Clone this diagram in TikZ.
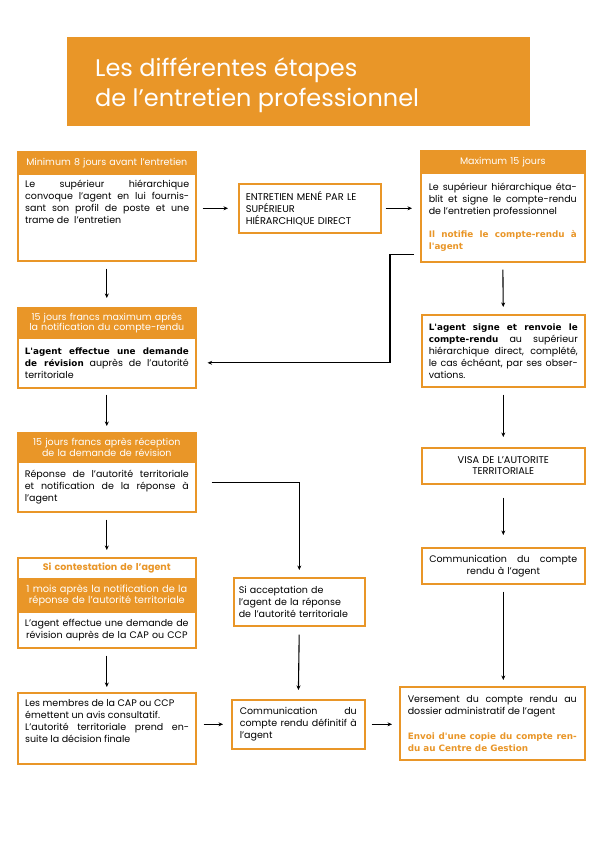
\documentclass[tikz,border=0pt]{standalone}
\usepackage{fontspec}
\setmainfont{Poppins}
\newfontfamily\vbfont{DejaVu Sans}
\usetikzlibrary{arrows.meta}
\definecolor{org}{RGB}{233,150,40}
\newcommand\myBody{\fontsize{9.5}{12}\selectfont}
\newcommand\myHead{\fontsize{9.5}{10.5}\selectfont}
\newcommand\myBold[1]{{\vbfont\bfseries\fontsize{8.8}{12}\selectfont #1}}
\newcommand\myOBold[1]{{\color{org}\vbfont\bfseries\fontsize{8.8}{12}\selectfont #1}}
\begin{document}
\begin{tikzpicture}[x=1pt,y=-1pt,
  box/.style={draw=org, line width=1.6pt, fill=white, anchor=north west, inner ysep=0pt, font=\myBody, text=black},
  hbox/.style={draw=org, line width=1.6pt, fill=org, anchor=north west, inner ysep=0pt, inner xsep=2pt, font=\myHead, text=white, align=center, minimum width=178pt, text width=174pt},
  txt/.style={anchor=north west, inner sep=0pt, font=\myBody, align=justify},
  arr/.style={line width=1.1pt, -{Stealth[length=4.5pt,width=4pt]}}]
\useasboundingbox (0,0) rectangle (595,842);
\fill[white] (0,0) rectangle (595,842);
% title
\node[fill=org, anchor=north west, minimum width=463pt, minimum height=89pt, inner sep=0pt] (title) at (67,37) {};
\node[anchor=base west, inner sep=0pt, text=white, font=\fontsize{24}{30}\selectfont] (title1) at (95,77) {Les différentes étapes};
\node[anchor=base west, inner sep=0pt, text=white, font=\fontsize{24}{30}\selectfont] (title2) at (95,107) {de l’entretien professionnel};
% left column
\node[hbox, minimum height=22pt] (b1h) at (17,151) {Minimum 8 jours avant l'entretien};
\node[box, minimum width=178pt, minimum height=87pt] (b1) at (17,173) {};
\node[txt, text width=164pt] (t1) at (25,180) {Le supérieur hiérarchique\linebreak convoque l'agent en lui fournis-\linebreak sant son profil de poste et une\linebreak trame de\ \ l'entretien};
\node[hbox, minimum height=30pt] (b2h) at (17,307) {15 jours francs maximum après\\la notification du compte-rendu};
\node[box, minimum width=178pt, minimum height=50pt, text width=164pt, inner xsep=7pt, align=justify] (b2) at (17,337) {\myBold{L'agent effectue une demande}\linebreak \myBold{de révision} auprès de l'autorité\linebreak territoriale};
\node[hbox, minimum height=29pt] (b3h) at (17,432) {15 jours francs après réception\\de la demande de révision};
\node[box, minimum width=178pt, minimum height=50pt, text width=164pt, inner xsep=7pt, align=justify] (b3) at (17,461) {Réponse de l'autorité territoriale\linebreak et notification de la réponse à\linebreak l'agent};
\node[box, minimum width=178pt, minimum height=21pt, text width=164pt, inner xsep=7pt, align=center, font=\myBody\bfseries, text=org] (b4a) at (17,557) {Si contestation de l'agent};
\node[hbox, minimum height=33pt, font=\fontsize{9.8}{11.5}\selectfont] (b4h) at (17,578) {1 mois après la notification de la\\réponse de l'autorité territoriale};
\node[box, minimum width=178pt, minimum height=36pt, text width=164pt, inner xsep=7pt, align=center] (b4b) at (17,611) {L'agent effectue une demande de\\révision auprès de la CAP ou CCP};
\node[box, minimum width=178pt, minimum height=71pt] (b5) at (17,692) {};
\node[txt, text width=164pt] (t5) at (25,699) {Les membres de la CAP ou CCP\newline émettent un avis consultatif.\newline L'autorité territoriale prend en-\linebreak suite la décision finale};
% middle column
\node[box, minimum width=142pt, minimum height=49pt, text width=128pt, inner xsep=7pt, align=left, font=\fontsize{9.8}{12}\selectfont] (m1) at (238,183) {ENTRETIEN MENÉ PAR LE\\SUPÉRIEUR\\HIÉRARCHIQUE DIRECT};
\node[box, minimum width=131pt, minimum height=48pt, text width=121pt, inner xsep=5pt, align=left] (acc) at (233,577) {Si acceptation de\\l'agent de la réponse\\de l'autorité territoriale};
\node[box, minimum width=133pt, minimum height=49pt, text width=117pt, inner xsep=8pt, align=justify] (commdef) at (231,699) {Communication du\linebreak compte rendu définitif à\linebreak l'agent};
% right column
\node[hbox, minimum width=164pt, text width=160pt, minimum height=22pt] (r1h) at (420,150) {Maximum 15 jours};
\node[box, minimum width=164pt, minimum height=89pt, text width=148pt, inner xsep=8pt, align=justify] (r1) at (420,172) {Le supérieur hiérarchique éta-\linebreak blit et signe le compte-rendu\linebreak de l'entretien professionnel\par\vspace{11pt}\myOBold{Il notifie le compte-rendu à\linebreak l'agent}};
\node[box, minimum width=163pt, minimum height=72pt, text width=149pt, inner xsep=7pt, align=justify] (r2) at (421,314) {\myBold{L'agent signe et renvoie le}\linebreak \myBold{compte-rendu} au supérieur\linebreak hiérarchique direct, complété,\linebreak le cas échéant, par ses obser-\linebreak vations.};
\node[box, minimum width=163pt, minimum height=36pt, text width=149pt, inner xsep=7pt, align=center, font=\fontsize{9.8}{11}\selectfont] (visa) at (421,447) {VISA DE L'AUTORITE\\TERRITORIALE};
\node[box, minimum width=163pt, minimum height=36pt, text width=148pt, inner xsep=7.5pt, align=center] (comm) at (421,547) {Communication\hfill du\hfill compte\\rendu à l'agent};
\node[box, minimum width=185pt, minimum height=73pt, text width=169pt, inner xsep=8pt, align=justify] (final) at (399,686) {Versement du compte rendu au\linebreak dossier administratif de l'agent\par\vspace{13pt}\myOBold{Envoi d'une copie du compte ren-\linebreak du au Centre de Gestion}};
% connectors
\draw[arr, shorten <=6pt, shorten >=10pt] (b1.east |- m1.west) -- (m1.west);
\draw[arr, shorten <=4pt, shorten >=8pt] (m1.east) -- (m1.east -| r1.west);
\draw[arr, shorten >=11pt] ([xshift=-6pt,yshift=8pt]r1.south west) -- ++(-24,0) |- (b2.east);
\draw[arr, shorten <=7pt, shorten >=9pt] (b1.south) -- (b2h.north);
\draw[arr, shorten <=6pt, shorten >=6pt] (b2.south) -- (b3h.north);
\draw[arr, shorten <=7pt, shorten >=7pt] (b3.south) -- (b4a.north);
\draw[arr, shorten <=7pt, shorten >=5pt] (b4b.south) -- (b5.north);
\draw[arr, shorten <=15pt, shorten >=7pt] ([yshift=4pt]b3.east) -| (acc.north);
\draw[arr, shorten <=8pt, shorten >=9pt] (acc.south) -- (commdef.north);
\draw[arr, shorten <=7pt, shorten >=8pt] (b5.east |- commdef.west) -- (commdef.west);
\draw[arr, shorten <=6pt, shorten >=7pt] (commdef.east) -- (commdef.east -| final.west);
\draw[arr, shorten <=7pt, shorten >=7pt] (r1.south) -- (r2.north);
\draw[arr, shorten <=7pt, shorten >=10pt] (r2.south) -- (visa.north);
\draw[arr, shorten <=13pt, shorten >=12pt] (visa.south) -- (comm.north);
\draw[arr, shorten <=7pt, shorten >=6pt] (comm.south) -- (comm.south |- final.north);
\end{tikzpicture}
\end{document}
